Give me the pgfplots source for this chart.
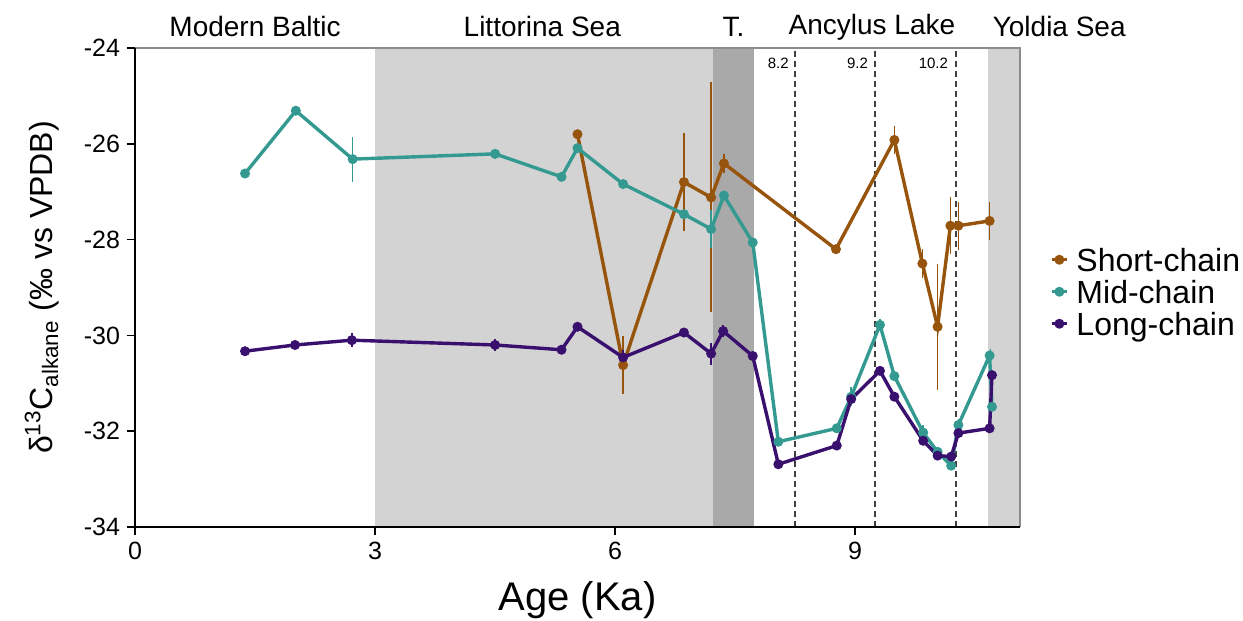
\documentclass[border=0pt]{standalone}
\usepackage{fontspec}
\setmainfont{Liberation Sans}
\usepackage{pgfplots}
\pgfplotsset{compat=1.18}
\definecolor{cshort}{RGB}{150,84,12}
\definecolor{cmid}{RGB}{52,154,145}
\definecolor{clong}{RGB}{58,16,110}
\definecolor{lgray}{RGB}{211,211,211}
\definecolor{dgray}{RGB}{169,169,169}
\begin{document}
\begin{tikzpicture}
\useasboundingbox (-67.5pt,-47pt) rectangle (554pt,263.5pt);
\begin{axis}[
  at={(0pt,0pt)}, anchor=south west,
  scale only axis, width=442.5pt, height=239.5pt,
  xmin=0, xmax=11.06, ymin=-34, ymax=-24,
  axis lines=left, axis line style={-, black, line width=1pt},
  tick align=outside, major tick length=4pt, tick style={black, line width=0.8pt},
  xtick={0,3,6,9}, xticklabels={0,3,6,9},
  ytick={-34,-32,-30,-28,-26,-24}, yticklabels={-34,-32,-30,-28,-26,-24},
  ticklabel style={font=\fontsize{12.5}{14}\selectfont},
  xlabel={Age (Ka)},
  ylabel={δ\textsuperscript{13}C\textsubscript{alkane} (‰ vs VPDB)},
  xlabel style={at={(rel axis cs:0.5,-0.152)}, anchor=center, font=\fontsize{20}{22}\selectfont},
  ylabel style={at={(rel axis cs:-0.105,0.5)}, anchor=center, font=\fontsize{16}{18}\selectfont},
  clip=false, axis on top,
  legend style={draw=none, fill=none, at={(1.027,0.484)}, anchor=west,
    font=\fontsize{16}{16}\selectfont, row sep=0pt,
    nodes={inner sep=0.5pt, text height=11.5pt, text depth=3.5pt},
    /tikz/every odd column/.append style={column sep=3.5pt}},
  legend cell align=left,
  legend image code/.code={\draw[mark repeat=2,mark phase=2] plot coordinates {(0cm,0.06cm) (0.13cm,0.06cm) (0.26cm,0.06cm)};},
  error bars/y dir=both, error bars/y explicit, error bars/error mark=none,
  error bars/error bar style={line width=0.7pt},
]
% shaded periods
\addplot[draw=none, fill=lgray, forget plot] coordinates {(3,-34) (3,-24) (7.225,-24) (7.225,-34)} -- cycle;
\addplot[draw=none, fill=dgray, forget plot] coordinates {(7.225,-34) (7.225,-24) (7.74,-24) (7.74,-34)} -- cycle;
\addplot[draw=none, fill=lgray, forget plot] coordinates {(10.66,-34) (10.66,-24) (11.06,-24) (11.06,-34)} -- cycle;
% dashed lines
\addplot[black!75, dashed, dash pattern=on 3pt off 2pt, line width=0.8pt, forget plot] coordinates {(8.25,-34) (8.25,-24)};
\addplot[black!75, dashed, dash pattern=on 3pt off 2pt, line width=0.8pt, forget plot] coordinates {(9.25,-34) (9.25,-24)};
\addplot[black!75, dashed, dash pattern=on 3pt off 2pt, line width=0.8pt, forget plot] coordinates {(10.26,-34) (10.26,-24)};
% top/right border
\addplot[black!45, line width=0.6pt, forget plot] coordinates {(0,-24) (11.06,-24) (11.06,-34)};
% Short-chain
\addplot[cshort, line width=1.7pt, mark=*, mark size=1.6pt] coordinates {
(5.53,-25.80) +- (0,0.05)
(6.10,-30.62) +- (0,0.60)
(6.86,-26.80) +- (0,1.02)
(7.20,-27.12) +- (0,2.40)
(7.36,-26.41) +- (0,0.20)
(8.76,-28.20) +- (0,0.00)
(9.49,-25.92) +- (0,0.30)
(9.84,-28.50) +- (0,0.30)
(10.03,-29.82) +- (0,1.32)
(10.19,-27.71) +- (0,0.60)
(10.29,-27.71) +- (0,0.50)
(10.68,-27.61) +- (0,0.40)
};
\addlegendentry{Short-chain}
% Mid-chain
\addplot[cmid, line width=1.7pt, mark=*, mark size=1.6pt] coordinates {
(1.375,-26.62) +- (0,0.10)
(2.01,-25.31) +- (0,0.00)
(2.72,-26.32) +- (0,0.47)
(4.50,-26.21) +- (0,0.10)
(5.33,-26.69) +- (0,0.10)
(5.53,-26.09) +- (0,0.00)
(6.10,-26.84) +- (0,0.00)
(6.86,-27.47) +- (0,0.08)
(7.20,-27.78) +- (0,0.40)
(7.36,-27.08) +- (0,0.05)
(7.72,-28.06) +- (0,0.00)
(8.04,-32.22) +- (0,0.05)
(8.77,-31.94) +- (0,0.05)
(8.95,-31.28) +- (0,0.20)
(9.31,-29.78) +- (0,0.12)
(9.49,-30.85) +- (0,0.05)
(9.85,-32.03) +- (0,0.15)
(10.03,-32.43) +- (0,0.10)
(10.20,-32.72) +- (0,0.05)
(10.29,-31.87) +- (0,0.12)
(10.68,-30.42) +- (0,0.05)
(10.71,-31.49) +- (0,0.05)
};
\addlegendentry{Mid-chain}
% Long-chain
\addplot[clong, line width=1.7pt, mark=*, mark size=1.6pt] coordinates {
(1.375,-30.33) +- (0,0.00)
(2.00,-30.20) +- (0,0.00)
(2.71,-30.10) +- (0,0.15)
(4.50,-30.20) +- (0,0.12)
(5.33,-30.30) +- (0,0.05)
(5.53,-29.82) +- (0,0.00)
(6.10,-30.46) +- (0,0.15)
(6.86,-29.94) +- (0,0.10)
(7.20,-30.38) +- (0,0.23)
(7.35,-29.91) +- (0,0.12)
(7.72,-30.43) +- (0,0.00)
(8.04,-32.69) +- (0,0.00)
(8.77,-32.30) +- (0,0.00)
(8.95,-31.33) +- (0,0.05)
(9.31,-30.74) +- (0,0.00)
(9.49,-31.28) +- (0,0.00)
(9.85,-32.20) +- (0,0.05)
(10.03,-32.51) +- (0,0.10)
(10.20,-32.53) +- (0,0.10)
(10.29,-32.04) +- (0,0.00)
(10.68,-31.94) +- (0,0.00)
(10.71,-30.83) +- (0,0.00)
};
\addlegendentry{Long-chain}
% period labels
\node[font=\fontsize{14}{16}\selectfont] at (axis cs:1.5,-23.56) {Modern Baltic};
\node[font=\fontsize{14}{16}\selectfont] at (axis cs:5.09,-23.56) {Littorina Sea};
\node[font=\fontsize{14}{16}\selectfont] at (axis cs:7.48,-23.56) {T.};
\node[font=\fontsize{14}{16}\selectfont] at (axis cs:9.21,-23.56) {Ancylus Lake};
\node[font=\fontsize{14}{16}\selectfont] at (axis cs:11.55,-23.56) {Yoldia Sea};
% dashed line labels
\node[anchor=east, font=\fontsize{7.5}{9}\selectfont, inner sep=1pt] at (axis cs:8.20,-24.31) {8.2};
\node[anchor=east, font=\fontsize{7.5}{9}\selectfont, inner sep=1pt] at (axis cs:9.19,-24.31) {9.2};
\node[anchor=east, font=\fontsize{7.5}{9}\selectfont, inner sep=1pt] at (axis cs:10.19,-24.31) {10.2};
\end{axis}
\end{tikzpicture}
\end{document}
